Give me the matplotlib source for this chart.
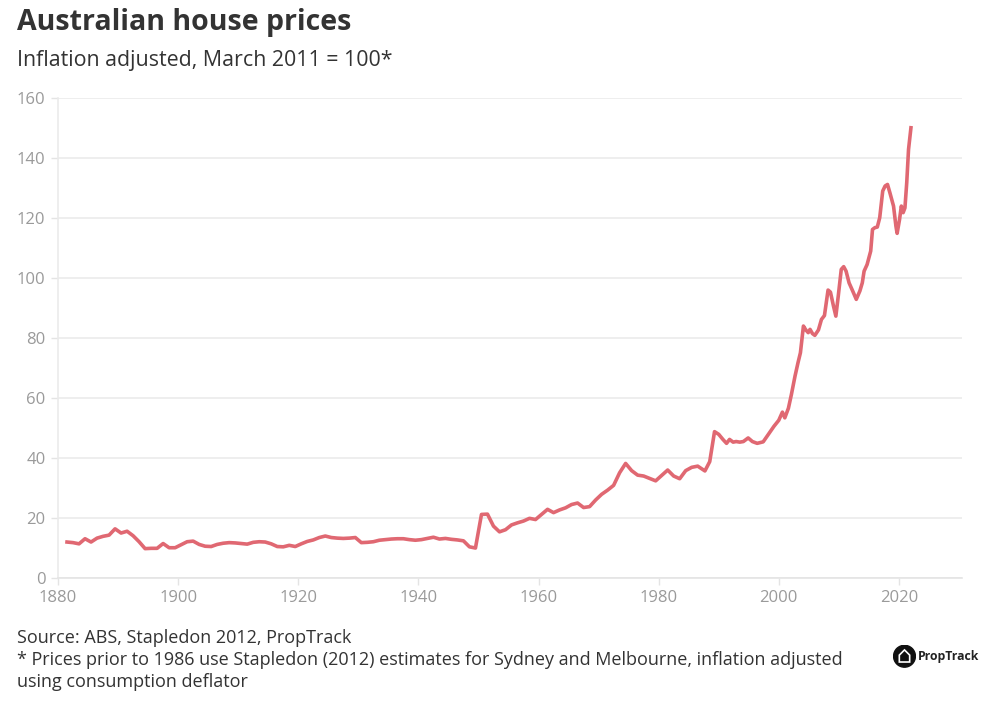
import matplotlib.pyplot as plt
from matplotlib.patches import Circle, Polygon

# --- данные (индекс цен, март 2011 = 100) ---
annual_years = [
    1881.5, 1882.5, 1883.5, 1884.5, 1885.5, 1886.5, 1887.5, 1888.5, 1889.5, 1890.5,
    1891.5, 1892.5, 1893.5, 1894.5, 1895.5, 1896.5, 1897.5, 1898.5, 1899.5, 1900.5,
    1901.5, 1902.5, 1903.5, 1904.5, 1905.5, 1906.5, 1907.5, 1908.5, 1909.5, 1910.5,
    1911.5, 1912.5, 1913.5, 1914.5, 1915.5, 1916.5, 1917.5, 1918.5, 1919.5, 1920.5,
    1921.5, 1922.5, 1923.5, 1924.5, 1925.5, 1926.5, 1927.5, 1928.5, 1929.5, 1930.5,
    1931.5, 1932.5, 1933.5, 1934.5, 1935.5, 1936.5, 1937.5, 1938.5, 1939.5, 1940.5,
    1941.5, 1942.5, 1943.5, 1944.5, 1945.5, 1946.5, 1947.5, 1948.5, 1949.5, 1950.5,
    1951.5, 1952.5, 1953.5, 1954.5, 1955.5, 1956.5, 1957.5, 1958.5, 1959.5, 1960.5,
    1961.5, 1962.5, 1963.5, 1964.5, 1965.5, 1966.5, 1967.5, 1968.5, 1969.5, 1970.5,
    1971.5, 1972.5, 1973.5, 1974.5, 1975.5, 1976.5, 1977.5, 1978.5, 1979.5, 1980.5,
    1981.5, 1982.5, 1983.5, 1984.5, 1985.5, 1986.5, 1987.7, 1988.5,
]
annual_index = [
    11.9, 11.7, 11.3, 13.0, 11.9, 13.2, 13.8, 14.2, 16.3, 14.9,
    15.5, 14.0, 12.0, 9.7, 9.8, 9.8, 11.4, 10.0, 10.0, 11.0,
    12.0, 12.2, 11.1, 10.5, 10.4, 11.1, 11.5, 11.7, 11.6, 11.4,
    11.2, 11.8, 12.0, 11.9, 11.3, 10.4, 10.3, 10.8, 10.4, 11.3,
    12.1, 12.6, 13.4, 13.9, 13.4, 13.2, 13.1, 13.2, 13.4, 11.7,
    11.8, 12.0, 12.5, 12.7, 12.9, 13.0, 13.0, 12.7, 12.5, 12.7,
    13.1, 13.5, 12.9, 13.1, 12.8, 12.6, 12.3, 10.3, 9.9, 21.1,
    21.2, 17.2, 15.3, 16.0, 17.6, 18.3, 18.9, 19.8, 19.4, 21.1,
    22.8, 21.7, 22.6, 23.3, 24.4, 24.9, 23.4, 23.7, 25.9, 27.8,
    29.2, 30.8, 35.0, 38.1, 35.7, 34.2, 33.9, 33.1, 32.3, 34.1,
    35.9, 33.9, 33.0, 35.7, 36.8, 37.2, 35.6, 38.7,
]

recent_years = [
    1989.3, 1990.0, 1990.7, 1991.3, 1991.8, 1992.4, 1992.9, 1993.5, 1994.1, 1994.9,
    1995.6, 1996.4, 1997.4, 1998.5, 1999.2, 2000.0, 2000.6, 2001.0, 2001.6, 2002.1,
    2002.7, 2003.2, 2003.6, 2004.1, 2004.5, 2004.9, 2005.2, 2005.6, 2006.0, 2006.6,
    2007.1, 2007.6, 2008.2, 2008.6, 2009.1, 2009.5, 2009.9, 2010.4, 2010.8, 2011.2,
    2011.7, 2012.3, 2012.9, 2013.5, 2013.9, 2014.2, 2014.7, 2015.3, 2015.6, 2016.0,
    2016.4, 2016.8, 2017.3, 2017.7, 2018.1, 2018.5, 2019.1, 2019.5, 2019.7, 2020.1,
    2020.4, 2020.7, 2021.0, 2021.3, 2021.6, 2022.0,
]
recent_index = [
    48.7, 47.8, 46.1, 44.8, 46.1, 45.2, 45.4, 45.2, 45.4, 46.6,
    45.4, 44.8, 45.3, 48.5, 50.5, 52.5, 55.2, 53.3, 56.5, 61.1,
    67.2, 71.7, 75.0, 83.9, 82.6, 81.7, 82.8, 81.4, 80.8, 82.6,
    86.1, 87.4, 95.9, 95.2, 90.6, 87.2, 93.9, 102.8, 103.7, 102.2,
    98.3, 95.6, 92.8, 95.6, 98.3, 102.2, 104.4, 108.9, 116.1, 116.7,
    116.9, 120.0, 128.9, 130.6, 131.1, 128.3, 123.9, 117.2, 114.8, 119.4,
    123.9, 121.7, 123.3, 131.7, 142.8, 150.0,
]

x_ticks = [1880, 1900, 1920, 1940, 1960, 1980, 2000, 2020]
y_ticks = [0, 20, 40, 60, 80, 100, 120, 140, 160]

years = annual_years + recent_years
index = annual_index + recent_index

plt.rcParams['font.family'] = ['Open Sans', 'DejaVu Sans']

fig = plt.figure(figsize=(10, 7.1), dpi=100)
ax = fig.add_axes([0.058, 0.1863, 0.904, 0.676])

ax.plot(years, index, color='#e06872', linewidth=2.6, solid_joinstyle='round')

ax.set_xlim(1880, 2030.5)
ax.set_ylim(0, 160)
ax.set_xticks(x_ticks)
ax.set_yticks(y_ticks)
ax.grid(axis='y', color='#ebebeb', linewidth=1.2)
ax.set_axisbelow(True)

for side in ['top', 'right']:
    ax.spines[side].set_visible(False)
ax.spines['left'].set_color('#ebebeb')
ax.spines['bottom'].set_color('#e4e4e4')
ax.spines['left'].set_linewidth(1.2)
ax.spines['bottom'].set_linewidth(1.2)
ax.tick_params(colors='#9a9a9a', labelsize=12, length=5, width=1, pad=4)
ax.tick_params(axis='both', color='#e4e4e4')

# --- заголовки ---
fig.text(0.017, 0.969, 'Australian house prices', fontsize=20.5, fontweight='bold',
         color='#333333', va='center')
fig.text(0.017, 0.915, 'Inflation adjusted, March 2011 = 100*', fontsize=15.4,
         color='#333333', va='center')

# --- подписи внизу ---
fig.text(0.017, 0.102, 'Source: ABS, Stapledon 2012, PropTrack', fontsize=13,
         color='#333333', va='center')
fig.text(0.017, 0.070, '* Prices prior to 1986 use Stapledon (2012) estimates for Sydney and Melbourne, inflation adjusted',
         fontsize=13, color='#333333', va='center')
fig.text(0.017, 0.039, 'using consumption deflator', fontsize=13,
         color='#333333', va='center')

# --- логотип ---
logo = fig.add_axes([0.893, 0.0595, 0.023, 0.023 * 1000 / 710])
logo.set_xlim(-1, 1)
logo.set_ylim(-1, 1)
logo.axis('off')
logo.add_patch(Circle((0, 0), 0.95, color='#111111'))
logo.add_patch(Polygon([(-0.45, -0.5), (-0.45, 0.1), (0, 0.55), (0.45, 0.1), (0.45, -0.5)],
                       closed=True, fill=False, edgecolor='white', linewidth=1.2))
fig.text(0.918, 0.075, 'PropTrack', fontsize=8.8, fontweight='bold', color='#222222', va='center')

fig.savefig('out.png', dpi=100)
